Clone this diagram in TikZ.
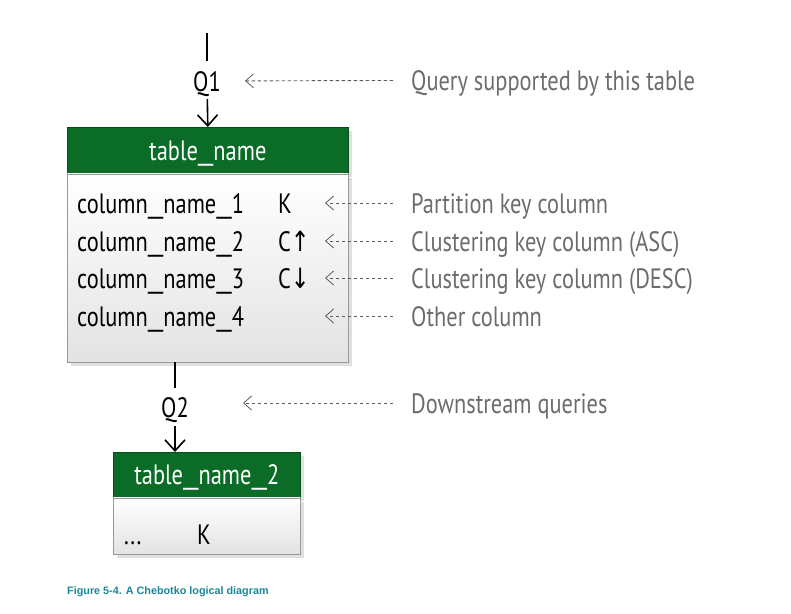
\documentclass[tikz,border=0pt]{standalone}
\usepackage{graphicx}
\usepackage{fontspec}
\setmainfont[FakeStretch=0.8]{PT Sans}
\newfontfamily\arrowfont[FakeStretch=0.8]{DejaVu Sans}
\newfontfamily\capfont{Liberation Sans}
\usetikzlibrary{arrows.meta,positioning,shadows}
\definecolor{hdgreen}{RGB}{10,108,38}
\definecolor{notegray}{RGB}{108,108,108}
\definecolor{capteal}{RGB}{28,134,150}
\newcommand\usc{\scalebox{1.7}[1]{\_}}

\begin{document}
\begin{tikzpicture}[x=1pt,y=-1pt,
      txt/.style={font=\fontsize{28}{30}\selectfont,inner sep=0pt,text height=20pt,text depth=0pt},
      col/.style={txt,anchor=west},
      note/.style={txt,anchor=west,text=notegray},
      qry/.style={txt},
      hdr/.style={txt,text=white,fill=hdgreen,draw=hdgreen!70!black,line width=0.6pt,
                  anchor=north west,minimum height=46pt,
                  drop shadow={shadow xshift=4pt,shadow yshift=-4pt,fill=black!12,opacity=1}},
      bodybox/.style={draw=black!40,line width=0.6pt,top color=white,bottom color=black!11,
                  anchor=north west,inner sep=0pt,
                  drop shadow={shadow xshift=4pt,shadow yshift=-4pt,fill=black!12,opacity=1}},
      flow/.style={draw=black,line width=1.6pt,-{Straight Barb[length=11pt,width=20pt,line width=1.6pt]}},
      hint/.style={draw=notegray!85!black,line width=0.9pt,dash pattern=on 3.5pt off 2.5pt,
                  -{Straight Barb[length=8pt,width=14pt,line width=0.8pt]}}]
    \useasboundingbox (0,0) rectangle (791,613);
    % first table
    \node[hdr,minimum width=281pt] (T1h) at (67,127) {table\usc name};
    \node[bodybox,minimum width=281pt,minimum height=188pt] (T1b) at (T1h.south west) {};
    \foreach \i/\y in {1/203,2/241,3/278,4/316} \node[col] (c\i) at (77,\y) {column\usc name\usc\i};
    \node[col] (k1) at (278,203) {K};
    \node[col] (k2) at (278,241) {C{\arrowfont ↑}};
    \node[col] (k3) at (278,278) {C{\arrowfont ↓}};
    % query in
    \coordinate (top) at (207,33);
    \node[qry] (q1) at (207,81) {Q1};
    \draw[line width=1.6pt,shorten >=10pt] (top) -- (q1);
    \draw[flow,shorten <=8pt] (q1) -- (T1h.north);
    % notes
    \node[note] (n0) at (411,80) {Query supported by this table};
    \node[note] (n1) at (411,203) {Partition key column};
    \node[note] (n2) at (411,241) {Clustering key column (ASC)};
    \node[note] (n3) at (411,278) {Clustering key column (DESC)};
    \node[note] (n4) at (411,316) {Other column};
    \node[note] (n5) at (411,403) {Downstream queries};
    \foreach \i/\y in {1/203,2/241,3/278,4/316} \coordinate (a\i) at (325,\y);
    \draw[hint,shorten <=18pt,shorten >=24pt] (n0) -- (q1);
    \foreach \i in {1,2,3,4} \draw[hint,shorten <=18pt] (n\i) -- (a\i);
    % query out
    \node[qry] (q2) at (175,407) {Q2};
    \coordinate (b2) at (243,403);
    \draw[line width=1.6pt,shorten >=9pt] (q2 |- T1b.south) -- (q2);
    \draw[hint,shorten <=18pt] (n5) -- (b2);
    % second table
    \node[hdr,minimum width=187pt,minimum height=45pt] (T2h) at (113,452) {table\usc name\usc 2};
    \node[bodybox,minimum width=187pt,minimum height=56pt] (T2b) at (T2h.south west) {};
    \draw[flow,shorten <=9pt] (q2) -- (q2 |- T2h.north);
    \node[col] (d1) at (124,534) {...};
    \node[col] (k5) at (197,534) {K};
    % caption
    \node[anchor=west,inner sep=0pt,text=capteal,font=\capfont\bfseries\fontsize{10.8}{12}\selectfont] (cap) at (67,592) {Figure 5-4. A Chebotko logical diagram};
  \end{tikzpicture}
\end{document}
